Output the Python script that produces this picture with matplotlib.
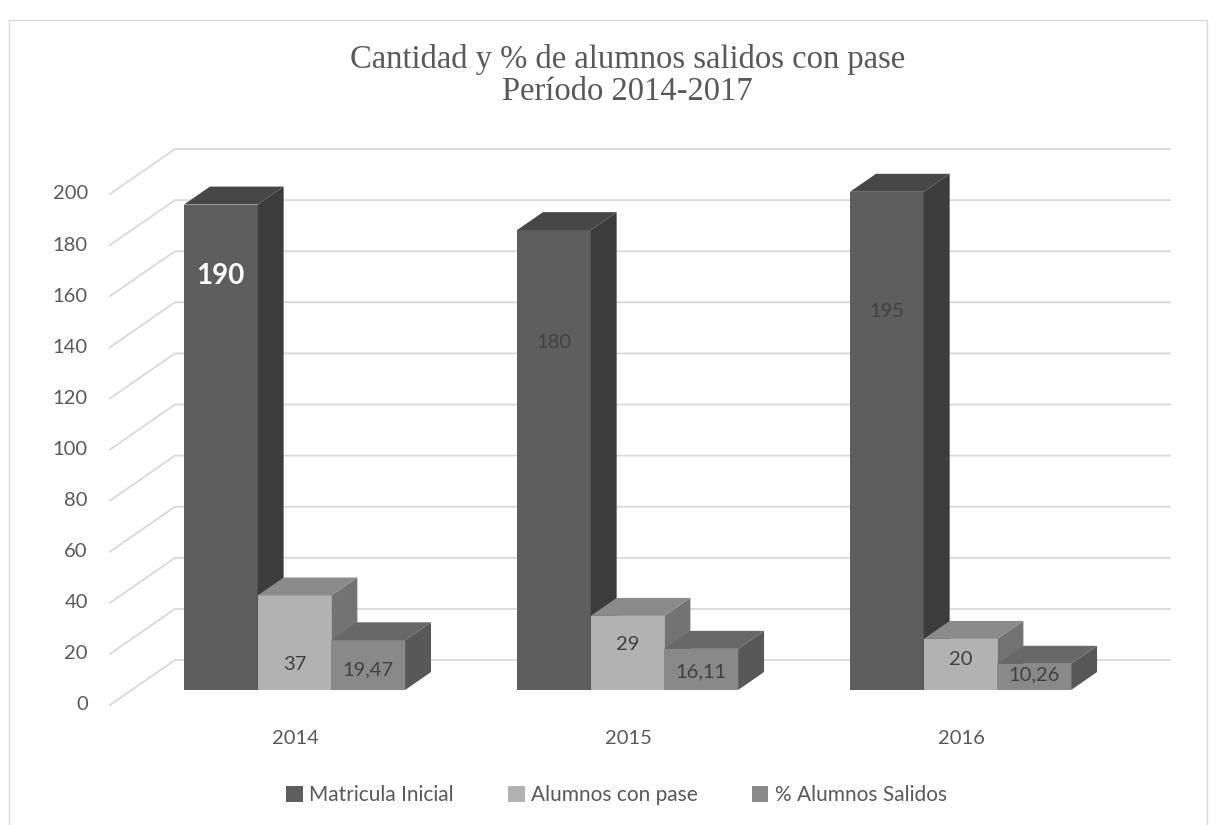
import numpy as np
import matplotlib.pyplot as plt
from matplotlib.patches import Polygon, Patch, Rectangle

# data
years = ['2014', '2015', '2016']
series = ['Matricula Inicial', 'Alumnos con pase', '% Alumnos Salidos']
matricula = [190, 180, 195]
con_pase = [37, 29, 20]
pct_salidos = [19.47, 16.11, 10.26]
value_text = [['190', '180', '195'], ['37', '29', '20'], ['19,47', '16,11', '10,26']]
y_ticks = list(range(0, 201, 20))

# layout / style
front_col = ['#5e5e5e', '#b2b2b2', '#898989']
top_col = ['#474747', '#8b8b8b', '#686868']
side_col = ['#3c3c3c', '#737373', '#585858']
label_y = [[162, 136, 148], [10, 18, 12], [8, 7, 6]]   # where the value labels sit
DX, DY = 0.195, 17.6          # depth of the floor (data units)
BAR_D0, BAR_D1 = 1 / 3, 0.733  # depth span of the bars
BAR_W = 0.2213
X_LEFT, X_RIGHT = -0.489, 2.499
GRID = '#d9d9d9'
TXT = '#595959'

plt.rcParams['font.family'] = ['Lato', 'DejaVu Sans']


def project(x, v, d):
    return x + (d - BAR_D0) * DX, v + (d - BAR_D0) * DY


fig = plt.figure(figsize=(12.16, 8.25), dpi=100)
ax = fig.add_axes([0, 0, 1, 1])
ax.set_xlim(-0.8844, 2.767)
ax.set_ylim(-52.84, 270.06)
ax.axis('off')

# walls / gridlines
for v in y_ticks:
    p0 = project(X_LEFT, v, 0)
    p1 = project(X_LEFT, v, 1)
    p2 = project(X_RIGHT, v, 1)
    ax.plot([p0[0], p1[0], p2[0]], [p0[1], p1[1], p2[1]], color=GRID, lw=1.3, zorder=1)
    ax.annotate(str(v), p0, xytext=(-16, 0), textcoords='offset points',
                ha='right', va='center', fontsize=14.5, color=TXT)

# bars
values = [matricula, con_pase, pct_salidos]
for i in range(len(years)):
    for j, vals in enumerate(values):
        v = vals[i]
        x0 = i - 1.5 * BAR_W + j * BAR_W
        x1 = x0 + BAR_W
        front = [project(x0, 0, BAR_D0), project(x1, 0, BAR_D0),
                 project(x1, v, BAR_D0), project(x0, v, BAR_D0)]
        side = [project(x1, 0, BAR_D0), project(x1, 0, BAR_D1),
                project(x1, v, BAR_D1), project(x1, v, BAR_D0)]
        top = [project(x0, v, BAR_D0), project(x1, v, BAR_D0),
               project(x1, v, BAR_D1), project(x0, v, BAR_D1)]
        z = 2 + i * 10 + j * 3
        ax.add_patch(Polygon(front, closed=True, fc=front_col[j], ec='none', zorder=z))
        ax.add_patch(Polygon(side, closed=True, fc=side_col[j], ec='none', zorder=z + 1))
        ax.add_patch(Polygon(top, closed=True, fc=top_col[j], ec='none', zorder=z + 2))
        if i == 0 and j == 0:
            ax.text((x0 + x1) / 2, label_y[j][i], value_text[j][i], ha='center', va='center',
                    fontsize=20, fontweight='bold', color='white', zorder=100)
        else:
            ax.text((x0 + x1) / 2, label_y[j][i], value_text[j][i], ha='center', va='center',
                    fontsize=14.5, color='#404040', zorder=100)

    ax.annotate(years[i], project(i, 0, 0), xytext=(16, -24), textcoords='offset points',
                ha='center', va='center', fontsize=14.5, color=TXT)

# title
fig.text(0.516, 0.928, 'Cantidad y % de alumnos salidos con pase', ha='center', va='center',
         fontsize=23.5, color=TXT, family='Liberation Serif')
fig.text(0.516, 0.889, 'Período 2014-2017', ha='center', va='center',
         fontsize=23.5, color=TXT, family='Liberation Serif')

# legend
handles = [Patch(fc=front_col[k], ec='none', label=series[k]) for k in range(3)]
fig.legend(handles=handles, ncol=3, loc='center', bbox_to_anchor=(0.507, 0.036),
           frameon=False, fontsize=15, handlelength=0.8, handleheight=0.8,
           columnspacing=2.6, handletextpad=0.3, labelcolor=TXT)

# chart border
fig.add_artist(Rectangle((9 / 1216, -0.02), 1198 / 1216, 0.008 + 815 / 825,
                         transform=fig.transFigure, fill=False, ec=GRID, lw=1))

fig.savefig('out.png', dpi=100, facecolor='white')
